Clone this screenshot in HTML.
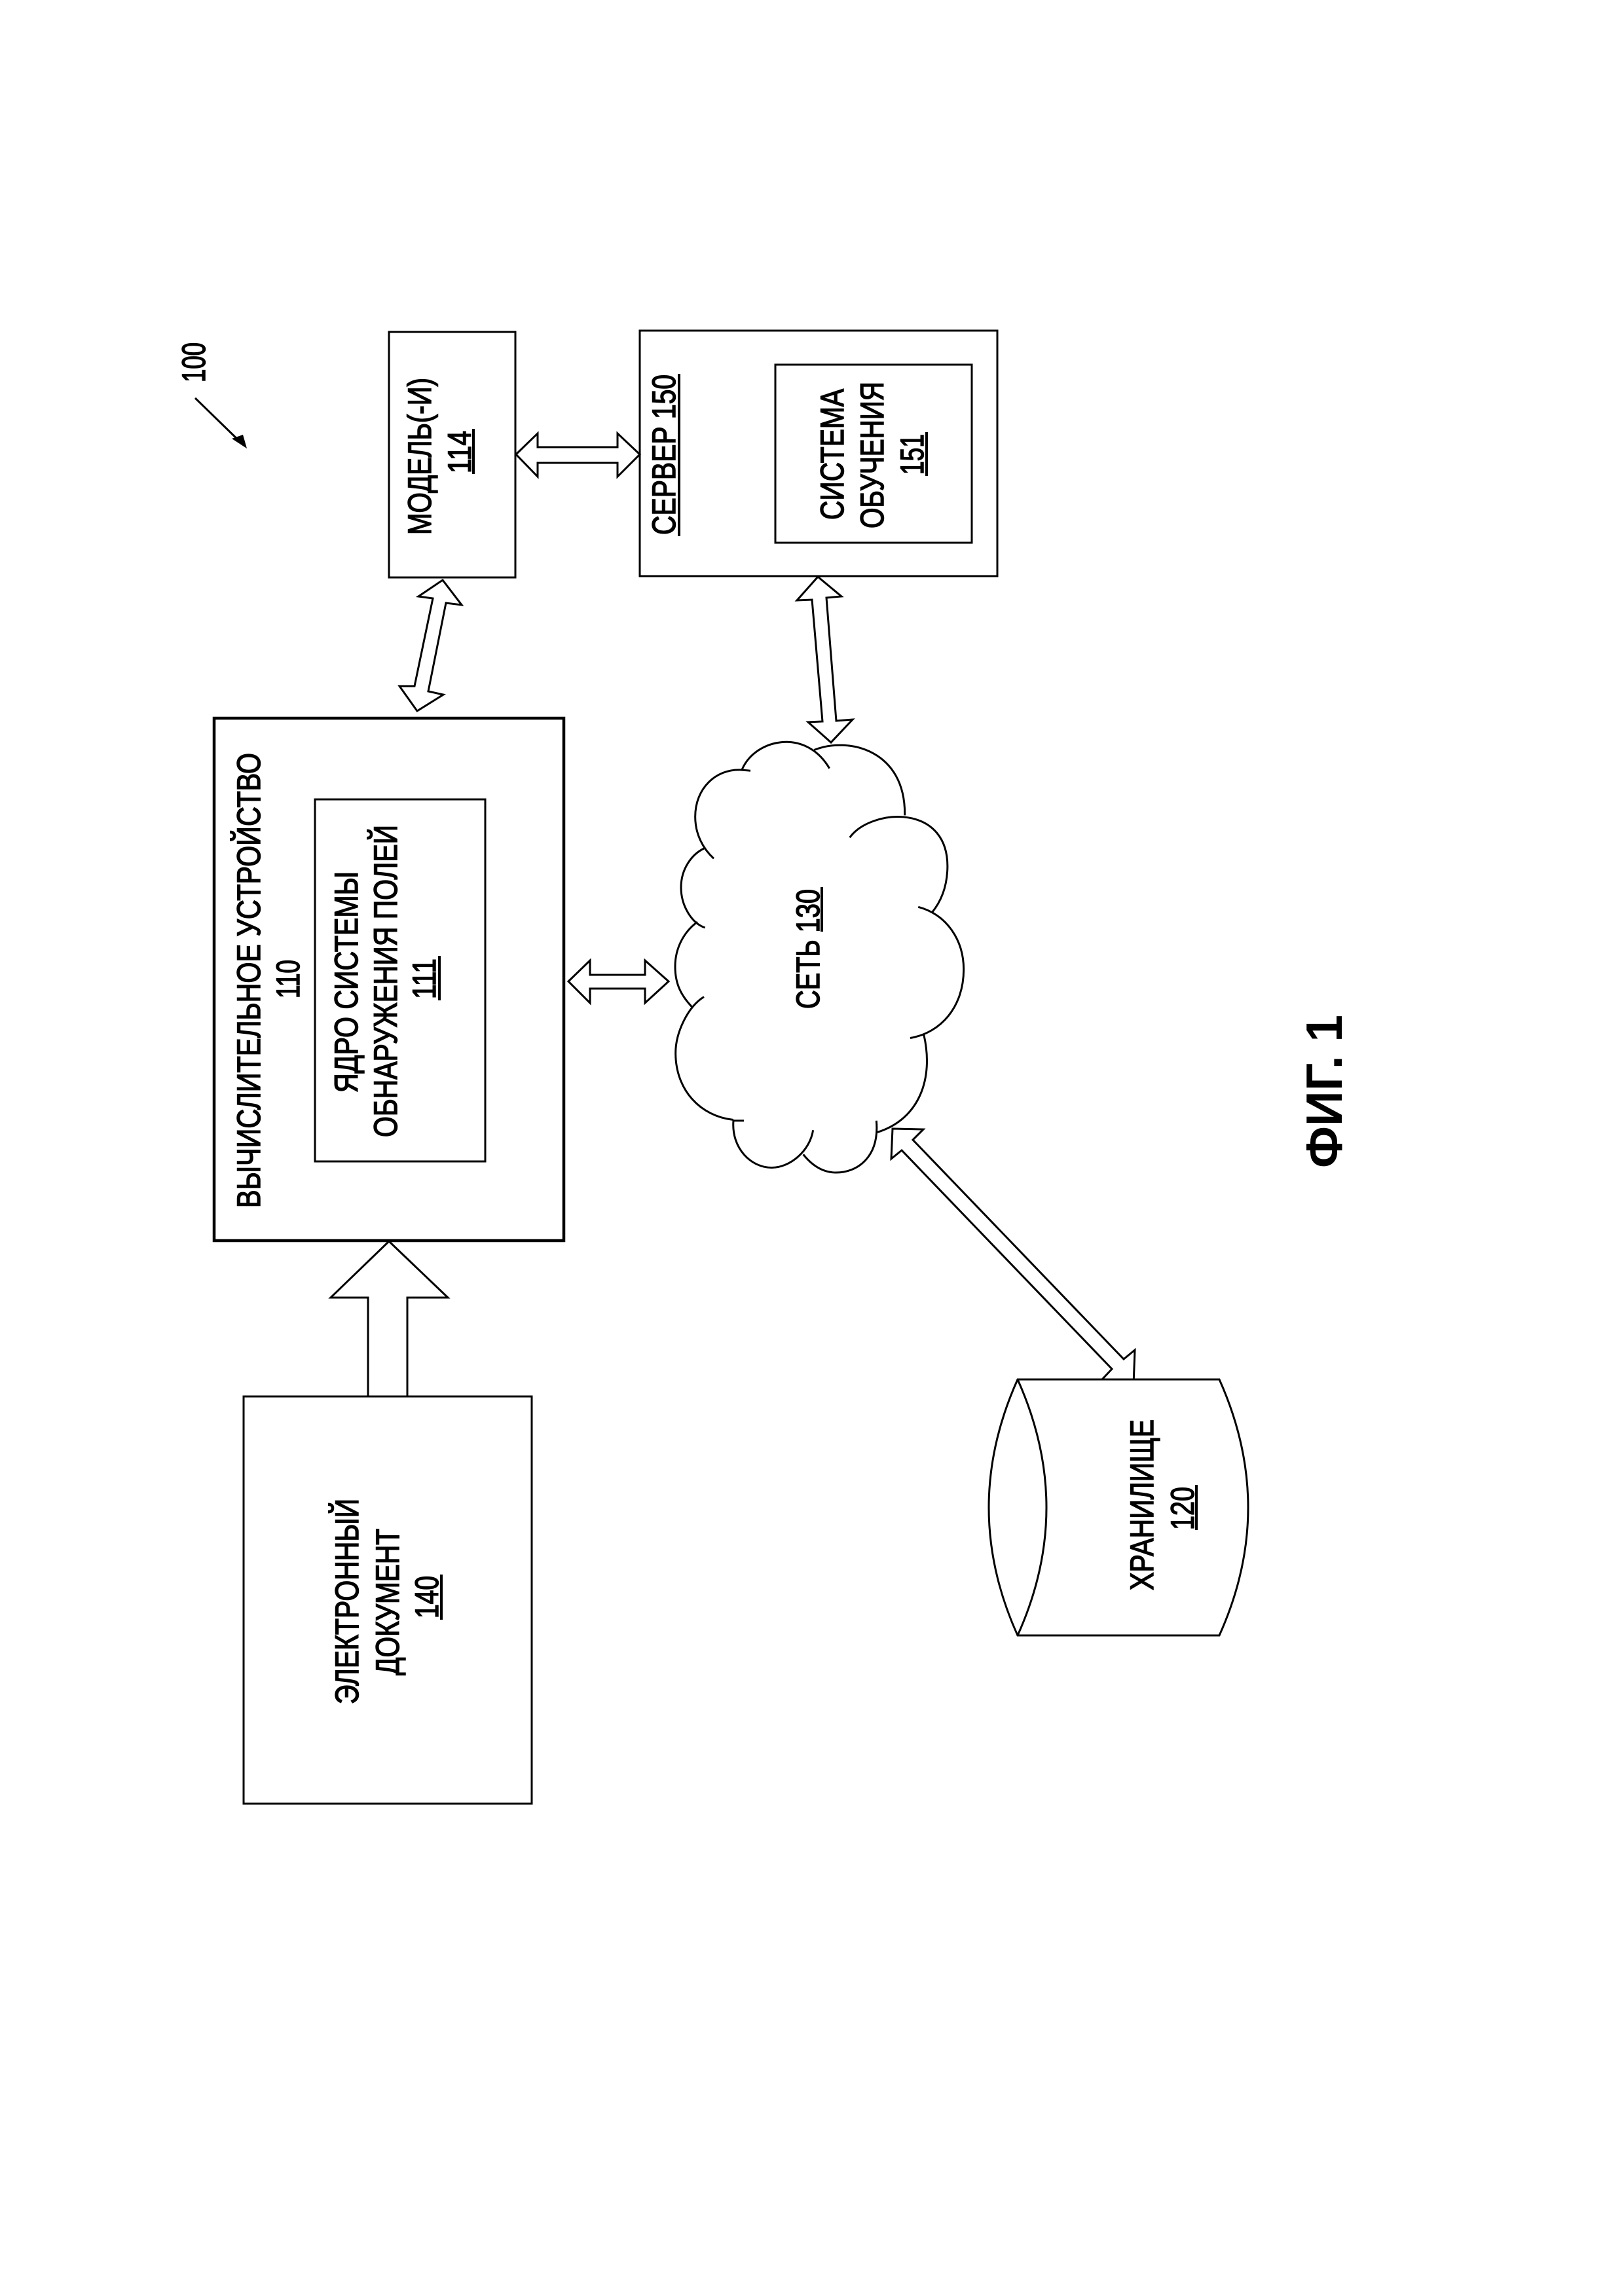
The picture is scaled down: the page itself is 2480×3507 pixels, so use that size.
<!DOCTYPE html>
<html><head><meta charset="utf-8"><style>
html,body{margin:0;padding:0;background:#fff;width:2480px;height:3507px;overflow:hidden}
svg{display:block}
text{font-family:"Liberation Sans",sans-serif;font-size:50px;fill:#000;stroke:#000;stroke-width:1.5}
.s{fill:#fff;stroke:#000;stroke-width:3}
.l{stroke:#000;stroke-width:4;fill:none}
</style></head><body>
<svg width="2480" height="3507" viewBox="0 0 2480 3507" xmlns="http://www.w3.org/2000/svg">
<rect width="2480" height="3507" fill="#fff"/>

<!-- 100 pointer -->
<line x1="298" y1="608" x2="372" y2="680" stroke="#000" stroke-width="3"/>
<polygon points="354,670 371,664 377,685" fill="#000"/>

<!-- boxes -->
<rect class="s" x="594" y="507" width="193" height="375"/>
<rect class="s" x="977" y="505" width="546" height="375"/>
<rect class="s" x="1184" y="557" width="300" height="272"/>
<rect class="s" x="327" y="1097" width="534" height="798" style="stroke-width:4.5"/>
<rect class="s" x="481" y="1221" width="260" height="553"/>
<rect class="s" x="372" y="2133" width="440" height="622"/>

<!-- arrows -->
<polygon class="s" points="788,694 821,662 821,683 943,683 943,662 977,694 943,728 943,707 821,707 821,728"/>
<polygon class="s" points="676,886 705,924 681,921 654,1056 677,1061 637,1086 610,1048 633,1048 661,914 639,911"/>
<polygon class="s" points="1249,881 1285,911 1262,913 1277,1101 1302,1099 1269,1134 1234,1103 1256,1102 1240,916 1217,917"/>
<polygon class="s" points="868,1499 901,1467 901,1489 985,1489 985,1467 1021,1499 985,1532 985,1510 901,1510 901,1532"/>
<polygon class="s" points="594,1896 684,1982 622,1982 622,2133 562,2133 562,1982 505,1982"/>
<polygon class="s" points="1363,1724 1410,1725 1394,1741 1716,2076 1733,2062 1731,2115 1683,2107 1698,2091 1377,1757 1361,1770"/>

<!-- cloud -->
<g transform="translate(1030,1120) scale(.3333,.44)" fill="none" stroke="#000">
<path vector-effect="non-scaling-stroke" stroke-width="3" d="M310 125C370 20 600 -20 710 122"/>
<path vector-effect="non-scaling-stroke" stroke-width="3" d="M640 58C800 10 1060 60 1055 285"/>
<path vector-effect="non-scaling-stroke" stroke-width="3" d="M803 362C900 260 1270 240 1250 480C1245 540 1220 585 1180 622"/>
<path vector-effect="non-scaling-stroke" stroke-width="3" d="M1117 603C1250 630 1325 720 1325 820C1325 950 1220 1040 1080 1058"/>
<path vector-effect="non-scaling-stroke" stroke-width="3" d="M1142 1045C1190 1200 1120 1340 930 1385"/>
<path vector-effect="non-scaling-stroke" stroke-width="3" d="M925 1345C940 1470 840 1525 740 1525C680 1525 630 1500 590 1462"/>
<path vector-effect="non-scaling-stroke" stroke-width="3" d="M635 1378C620 1450 530 1508 445 1508C350 1508 260 1440 270 1345L318 1345"/>
<path vector-effect="non-scaling-stroke" stroke-width="3" d="M270 1342C120 1330 5 1240 5 1110C5 1040 60 950 135 915"/>
<path vector-effect="non-scaling-stroke" stroke-width="3" d="M80 950C30 910 3 870 3 810C3 740 50 685 105 655"/>
<path vector-effect="non-scaling-stroke" stroke-width="3" d="M140 675C80 660 30 600 30 535C30 470 80 420 135 400"/>
<path vector-effect="non-scaling-stroke" stroke-width="3" d="M180 435C130 400 95 350 95 290C95 190 190 125 300 127L348 130"/>
</g>

<!-- storage cylinder -->
<path class="s" d="M1554 2107L1862 2107Q1950 2303 1862 2498L1554 2498Q1466 2303 1554 2107Z"/>
<path d="M1554 2107Q1642 2303 1554 2498" fill="none" stroke="#000" stroke-width="3"/>

<!-- labels -->
<text transform="translate(313,584) rotate(-90)" textLength="61" lengthAdjust="spacingAndGlyphs">100</text>

<text transform="translate(658,817) rotate(-90)" textLength="240" lengthAdjust="spacingAndGlyphs">МОДЕЛЬ(-И)</text>
<text transform="translate(719,723) rotate(-90)" textLength="65" lengthAdjust="spacingAndGlyphs">114</text>
<line class="l" x1="723" y1="724" x2="723" y2="655"/>

<text transform="translate(1031,817) rotate(-90)" textLength="245" lengthAdjust="spacingAndGlyphs">СЕРВЕР 150</text>
<line class="l" x1="1037" y1="819" x2="1037" y2="571"/>
<text transform="translate(1288,794) rotate(-90)" textLength="200" lengthAdjust="spacingAndGlyphs">СИСТЕМА</text>
<text transform="translate(1349,807) rotate(-90)" textLength="224" lengthAdjust="spacingAndGlyphs">ОБУЧЕНИЯ</text>
<text transform="translate(1410,725) rotate(-90)" textLength="62" lengthAdjust="spacingAndGlyphs">151</text>
<line class="l" x1="1415" y1="727" x2="1415" y2="660"/>

<text transform="translate(397,1845) rotate(-90)" textLength="695" lengthAdjust="spacingAndGlyphs">ВЫЧИСЛИТЕЛЬНОЕ УСТРОЙСТВО</text>
<text transform="translate(457,1525) rotate(-90)" textLength="59" lengthAdjust="spacingAndGlyphs">110</text>
<text transform="translate(546,1669) rotate(-90)" textLength="338" lengthAdjust="spacingAndGlyphs">ЯДРО СИСТЕМЫ</text>
<text transform="translate(606,1737) rotate(-90)" textLength="477" lengthAdjust="spacingAndGlyphs">ОБНАРУЖЕНИЯ ПОЛЕЙ</text>
<text transform="translate(665,1526) rotate(-90)" textLength="62" lengthAdjust="spacingAndGlyphs">111</text>
<line class="l" x1="671" y1="1528" x2="671" y2="1460"/>

<text transform="translate(1251,1541) rotate(-90)" textLength="183" lengthAdjust="spacingAndGlyphs">СЕТЬ 130</text>
<line class="l" x1="1255" y1="1423" x2="1255" y2="1355"/>

<text transform="translate(547,2603) rotate(-90)" textLength="314" lengthAdjust="spacingAndGlyphs">ЭЛЕКТРОННЫЙ</text>
<text transform="translate(609,2559) rotate(-90)" textLength="224" lengthAdjust="spacingAndGlyphs">ДОКУМЕНТ</text>
<text transform="translate(669,2472) rotate(-90)" textLength="65" lengthAdjust="spacingAndGlyphs">140</text>
<line class="l" x1="674" y1="2474" x2="674" y2="2405"/>

<text transform="translate(1761,2429) rotate(-90)" textLength="261" lengthAdjust="spacingAndGlyphs">ХРАНИЛИЩЕ</text>
<text transform="translate(1823,2337) rotate(-90)" textLength="66" lengthAdjust="spacingAndGlyphs">120</text>
<line class="l" x1="1827" y1="2337" x2="1827" y2="2268"/>

<text transform="translate(2049,1784) rotate(-90)" textLength="234" lengthAdjust="spacingAndGlyphs" style="font-weight:bold;font-size:78px;stroke-width:0">ФИГ. 1</text>
</svg>
</body></html>
